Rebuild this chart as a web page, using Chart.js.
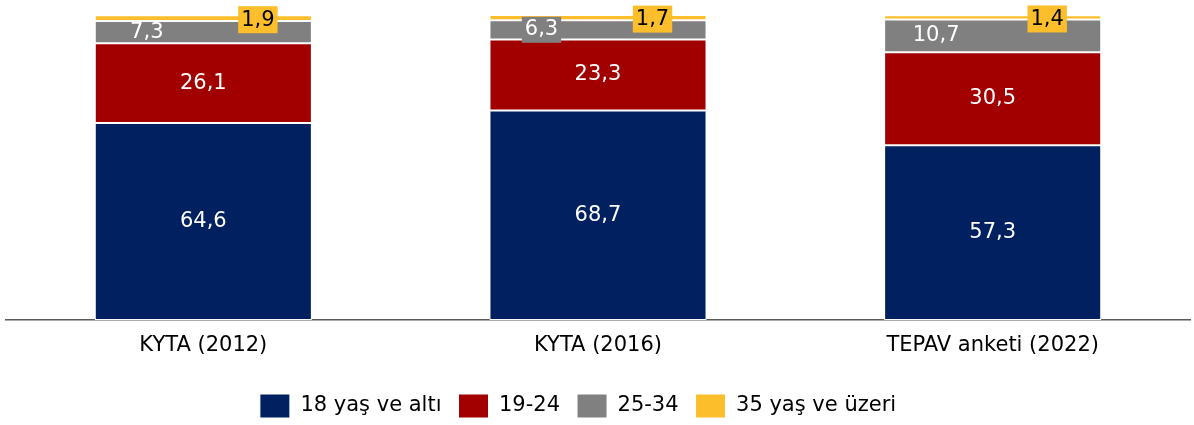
<!DOCTYPE html>
<html>
<head>
<meta charset="utf-8">
<script src="https://cdn.jsdelivr.net/npm/chart.js@4/dist/chart.umd.min.js"></script>
<style>
  html, body { margin: 0; padding: 0; background: #fff; }
  #wrap { width: 1194px; height: 425px; }
</style>
</head>
<body>
<div id="wrap"><canvas id="ages"></canvas></div>
<script>
const categories = ["KYTA (2012)", "KYTA (2016)", "TEPAV anketi (2022)"];
const seriesNames = ["18 yaş ve altı", "19-24", "25-34", "35 yaş ve üzeri"];
const under18 = [64.6, 68.7, 57.3];
const age19to24 = [26.1, 23.3, 30.5];
const age25to34 = [7.3, 6.3, 10.7];
const over35 = [1.9, 1.7, 1.4];
const colors = ["#002060", "#A20000", "#808080", "#FDBE2B"];

const FONT = "DejaVu Sans";

const fmt = (v) => v.toFixed(1).replace(".", ",");

// draws the value labels on the segments
const segmentLabels = {
  id: "segmentLabels",
  afterLayout(chart) {
    // legend sits a bit left of centre in the original
    chart.legend.left -= 20;
    chart.legend.right -= 20;
  },
  afterDatasetsDraw(chart) {
    const ctx = chart.ctx;
    ctx.save();
    ctx.font = "21px '" + FONT + "'";
    ctx.textAlign = "center";
    ctx.textBaseline = "middle";
    chart.data.datasets.forEach((ds, di) => {
      const meta = chart.getDatasetMeta(di);
      meta.data.forEach((bar, i) => {
        const txt = fmt(ds.data[i]);
        const left = bar.x - bar.width / 2;
        const right = bar.x + bar.width / 2;
        const cy = (bar.y + bar.base) / 2;
        if (di < 2) {
          ctx.fillStyle = "#fff";
          ctx.fillText(txt, bar.x, cy);
        } else if (di === 2) {
          const tx = left + 52;
          const w = ctx.measureText(txt).width + 6;
          // small grey patch only when the segment is too thin
          if (bar.base - bar.y < 21) {
            ctx.fillStyle = colors[2];
            ctx.fillRect(tx - w / 2, cy - 13, w, 26);
          }
          ctx.fillStyle = "#fff";
          ctx.fillText(txt, tx, cy);
        } else {
          const tx = right - 54;
          const w = ctx.measureText(txt).width + 6;
          ctx.fillStyle = colors[3];
          ctx.fillRect(tx - w / 2, cy - 12, w, 27);
          ctx.fillStyle = "#000";
          ctx.fillText(txt, tx, cy + 2);
        }
      });
    });
    ctx.restore();
  }
};

const seriesValues = [under18, age19to24, age25to34, over35];

new Chart(document.getElementById("ages"), {
  type: "bar",
  data: {
    labels: categories,
    datasets: seriesValues.map((vals, i) => ({
      label: seriesNames[i],
      data: vals,
      backgroundColor: colors[i],
      borderColor: "#ffffff",
      borderWidth: 1,
      borderSkipped: false,
      barPercentage: 0.55,
      categoryPercentage: 1
    }))
  },
  options: {
    responsive: true,
    maintainAspectRatio: false,
    animation: false,
    layout: { padding: { left: 6, right: 4, top: 15, bottom: -3 } },
    plugins: {
      tooltip: { enabled: false },
      legend: {
        display: true,
        position: "bottom",
        labels: {
          boxWidth: 30,
          boxHeight: 24,
          padding: 17,
          color: "#000",
          font: { family: FONT, size: 21, lineHeight: 1 }
        }
      }
    },
    scales: {
      x: {
        stacked: true,
        grid: { display: false, drawTicks: false },
        border: { display: true, color: "#595959", width: 1.5 },
        ticks: {
          color: "#000",
          padding: 13,
          font: { family: FONT, size: 21 }
        },
        afterFit(scale) {
          scale.height = 57;
        }
      },
      y: {
        stacked: true,
        display: false,
        min: 0,
        max: 100
      }
    }
  },
  plugins: [segmentLabels]
});
</script>
</body>
</html>
